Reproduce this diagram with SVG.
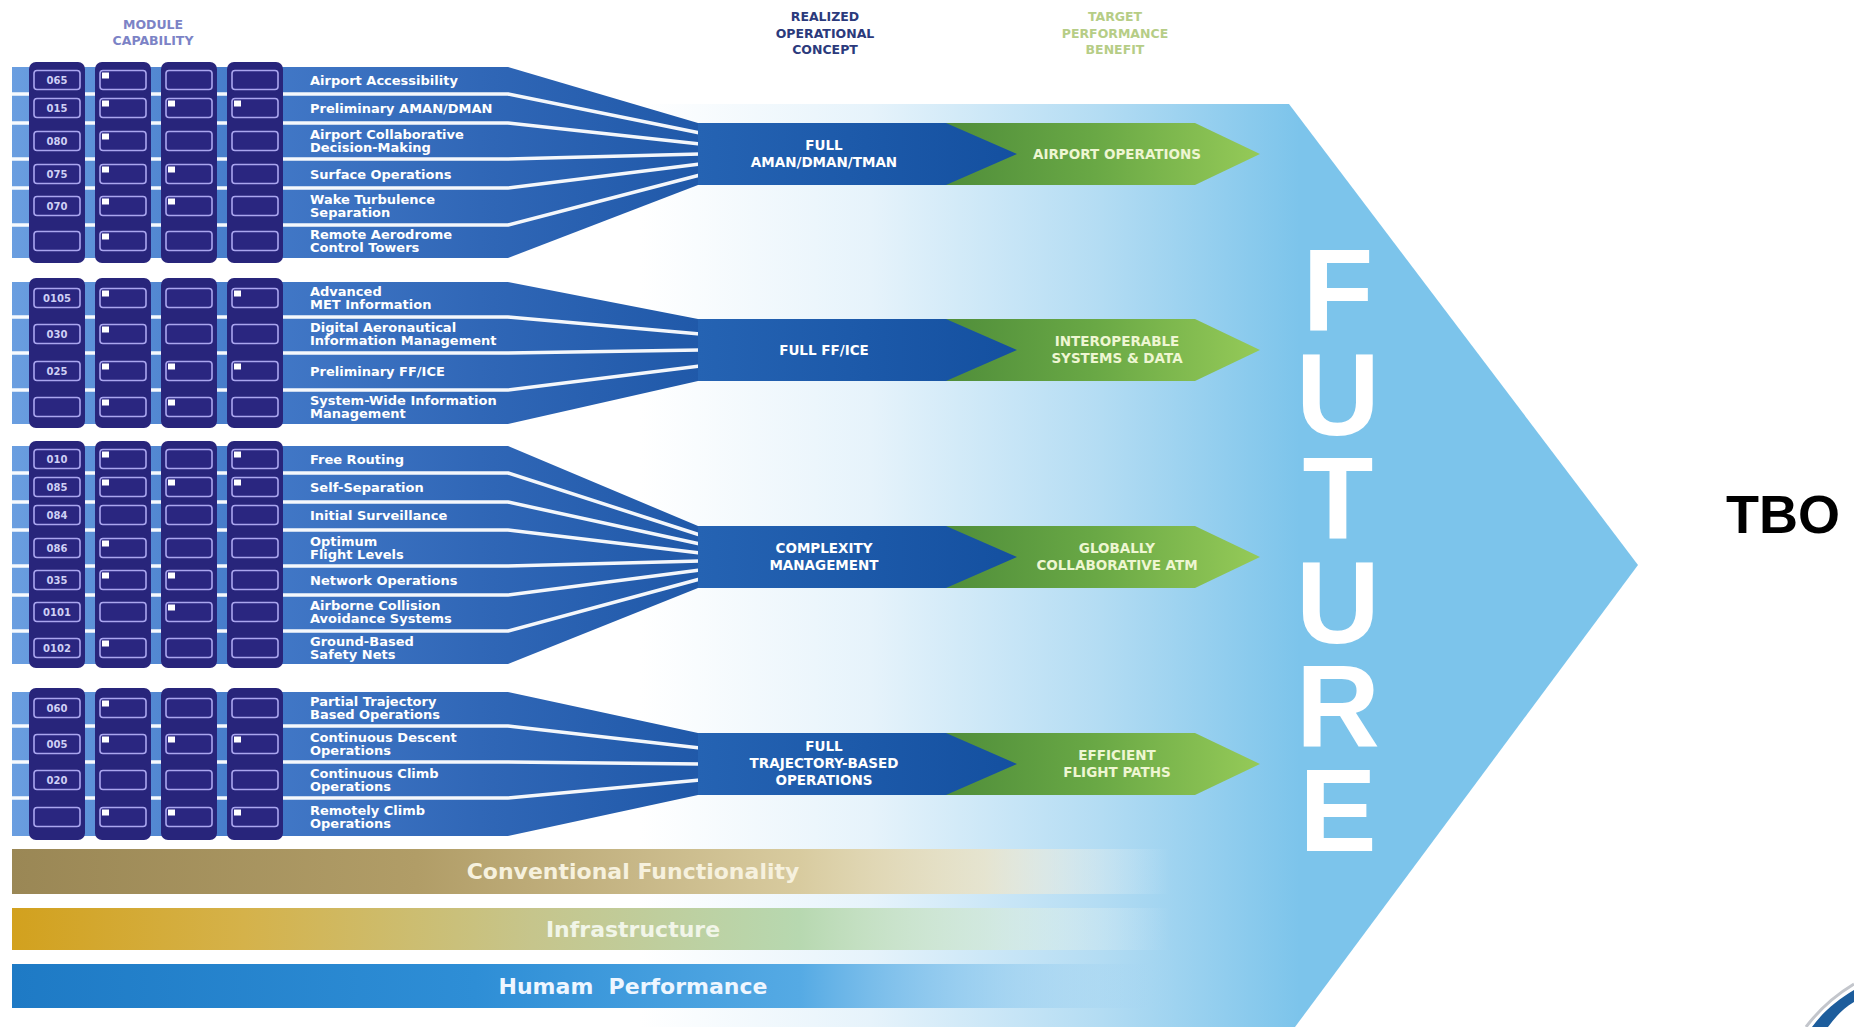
<svg xmlns="http://www.w3.org/2000/svg" xmlns:xlink="http://www.w3.org/1999/xlink" width="1854" height="1027" viewBox="0 0 1854 1027">
<defs>
<linearGradient id="gArrow" gradientUnits="userSpaceOnUse" x1="640" y1="0" x2="1300" y2="0">
<stop offset="0" stop-color="#ffffff"/><stop offset="0.35" stop-color="#e6f3fb"/><stop offset="0.7" stop-color="#b3dcf3"/><stop offset="1" stop-color="#7cc4eb"/>
</linearGradient>
<linearGradient id="gBand" gradientUnits="userSpaceOnUse" x1="12" y1="0" x2="700" y2="0">
<stop offset="0" stop-color="#6a9ee0"/><stop offset="0.35" stop-color="#4379c8"/><stop offset="0.7" stop-color="#2f66b6"/><stop offset="1" stop-color="#2059a9"/>
</linearGradient>
<linearGradient id="gBlue" gradientUnits="userSpaceOnUse" x1="698" y1="0" x2="1017" y2="0">
<stop offset="0" stop-color="#2563b3"/><stop offset="1" stop-color="#1450a0"/>
</linearGradient>
<linearGradient id="gGreen" gradientUnits="userSpaceOnUse" x1="930" y1="0" x2="1260" y2="0">
<stop offset="0" stop-color="#4d8b39"/><stop offset="0.5" stop-color="#69a845"/><stop offset="1" stop-color="#95ca58"/>
</linearGradient>
<linearGradient id="gConv" gradientUnits="userSpaceOnUse" x1="12" y1="0" x2="1170" y2="0">
<stop offset="0" stop-color="#9a8755"/><stop offset="0.35" stop-color="#b19d67"/><stop offset="0.68" stop-color="#d8cb9f"/><stop offset="0.84" stop-color="#ebe3c6" stop-opacity="0.8"/><stop offset="1" stop-color="#ffffff" stop-opacity="0"/>
</linearGradient>
<linearGradient id="gInfra" gradientUnits="userSpaceOnUse" x1="12" y1="0" x2="1170" y2="0">
<stop offset="0" stop-color="#d2a11e"/><stop offset="0.2" stop-color="#d5b24a"/><stop offset="0.45" stop-color="#c6c58c"/><stop offset="0.68" stop-color="#b7d8b0"/><stop offset="0.84" stop-color="#d2e8d4" stop-opacity="0.7"/><stop offset="1" stop-color="#ffffff" stop-opacity="0"/>
</linearGradient>
<linearGradient id="gHum" gradientUnits="userSpaceOnUse" x1="12" y1="0" x2="1170" y2="0">
<stop offset="0" stop-color="#1e7ac5"/><stop offset="0.4" stop-color="#2e8ed6"/><stop offset="0.68" stop-color="#55aae4"/><stop offset="0.84" stop-color="#8cc8ee" stop-opacity="0.7"/><stop offset="1" stop-color="#a8d6f2" stop-opacity="0"/>
</linearGradient>
<g id="bx">
<rect class="ib" x="34" y="-9.5" width="46" height="19" rx="3"/>
<rect class="ib" x="100" y="-9.5" width="46" height="19" rx="3"/>
<rect class="ib" x="166" y="-9.5" width="46" height="19" rx="3"/>
<rect class="ib" x="232" y="-9.5" width="46" height="19" rx="3"/>
</g>
<rect id="fl" x="0" y="-7.5" width="7" height="6" fill="#ffffff"/>
</defs>
<style>
.ib{fill:#2a2680;stroke:#aaa6ef;stroke-width:1.6}
.col{fill:#28257b}
.band{fill:url(#gBand)}
.sep{fill:none;stroke:#ffffff;stroke-width:3.5;stroke-linejoin:round;opacity:0.95}
.code{font-family:"DejaVu Sans",sans-serif;font-weight:bold;font-size:10px;fill:#cfd0f5;text-anchor:middle}
.lbl{font-family:"DejaVu Sans",sans-serif;font-weight:bold;font-size:13px;fill:#ffffff}
.blue{fill:url(#gBlue)}
.green{fill:url(#gGreen)}
.ct{font-family:"DejaVu Sans",sans-serif;font-weight:bold;font-size:13.5px;fill:#ffffff;text-anchor:middle}
.bt{font-family:"DejaVu Sans",sans-serif;font-weight:bold;font-size:13.5px;fill:#eef6d2;text-anchor:middle}
.hd{font-family:"DejaVu Sans",sans-serif;font-weight:bold;font-size:12.5px;text-anchor:middle}
.bar{font-family:"DejaVu Sans",sans-serif;font-weight:bold;font-size:22px;text-anchor:middle}
.fut{font-family:"Liberation Sans",Arial,sans-serif;font-weight:bold;font-size:116px;fill:#ffffff;writing-mode:vertical-rl;text-orientation:upright;letter-spacing:-26px}
</style>
<rect x="0" y="0" width="1854" height="1027" fill="#ffffff"/>

<g id="future-arrow">
<polygon points="600,104 1289,104 1638,565 1295,1027 600,1027" fill="url(#gArrow)"/>
</g>

<g id="bar-conventional">
<rect x="12" y="849" width="1160" height="45" fill="url(#gConv)"/>
<text class="bar" x="633" y="879" fill="#f6f1de">Conventional Functionality</text>
</g>
<g id="bar-infrastructure">
<rect x="12" y="908" width="1160" height="42" fill="url(#gInfra)"/>
<text class="bar" x="633" y="937" fill="#f1f5e8">Infrastructure</text>
</g>
<g id="bar-human">
<rect x="12" y="964" width="1160" height="44" fill="url(#gHum)"/>
<text class="bar" x="633" y="994" fill="#eef6ff" xml:space="preserve">Humam  Performance</text>
</g>

<g id="benefits">
<g id="benefit-airport"><polygon class="green" points="930,123 1195,123 1260,154 1195,185 930,185"/><text class="bt" x="1117" y="159">AIRPORT OPERATIONS</text></g>
<g id="benefit-interop"><polygon class="green" points="930,319 1195,319 1260,350 1195,381 930,381"/><text class="bt" x="1117" y="346">INTEROPERABLE</text><text class="bt" x="1117" y="363">SYSTEMS &amp; DATA</text></g>
<g id="benefit-global"><polygon class="green" points="930,526 1195,526 1260,557 1195,588 930,588"/><text class="bt" x="1117" y="553">GLOBALLY</text><text class="bt" x="1117" y="570">COLLABORATIVE ATM</text></g>
<g id="benefit-efficient"><polygon class="green" points="930,733 1195,733 1260,764 1195,795 930,795"/><text class="bt" x="1117" y="760">EFFICIENT</text><text class="bt" x="1117" y="777">FLIGHT PATHS</text></g>
</g>

<g id="bands">
<path class="band" d="M12,67 H508 L698,123 V185 L508,258 H12 Z"/>
<path class="band" d="M12,282 H508 L698,319 V381 L508,424 H12 Z"/>
<path class="band" d="M12,446 H508 L698,526 V588 L508,664 H12 Z"/>
<path class="band" d="M12,692 H508 L698,733 V795 L508,836 H12 Z"/>
</g>

<g id="connectors">
<path class="sep" d="M12,94 H508 L700,133"/>
<path class="sep" d="M12,123 H508 L700,144"/>
<path class="sep" d="M12,159 H508 L700,154"/>
<path class="sep" d="M12,188 H508 L700,164"/>
<path class="sep" d="M12,225 H508 L700,175"/>
<path class="sep" d="M12,317 H508 L700,334"/>
<path class="sep" d="M12,353 H508 L700,350"/>
<path class="sep" d="M12,390 H508 L700,366"/>
<path class="sep" d="M12,473 H508 L700,535"/>
<path class="sep" d="M12,502 H508 L700,544"/>
<path class="sep" d="M12,530 H508 L700,553"/>
<path class="sep" d="M12,566 H508 L700,561"/>
<path class="sep" d="M12,595 H508 L700,570"/>
<path class="sep" d="M12,631 H508 L700,579"/>
<path class="sep" d="M12,726 H508 L700,748"/>
<path class="sep" d="M12,762 H508 L700,764"/>
<path class="sep" d="M12,798 H508 L700,780"/>
</g>

<g id="concepts">
<g id="concept-aman"><polygon class="blue" points="698,123 946,123 1017,154 946,185 698,185"/><text class="ct" x="824" y="150">FULL</text><text class="ct" x="824" y="167">AMAN/DMAN/TMAN</text></g>
<g id="concept-ffice"><polygon class="blue" points="698,319 946,319 1017,350 946,381 698,381"/><text class="ct" x="824" y="355">FULL FF/ICE</text></g>
<g id="concept-complexity"><polygon class="blue" points="698,526 946,526 1017,557 946,588 698,588"/><text class="ct" x="824" y="553">COMPLEXITY</text><text class="ct" x="824" y="570">MANAGEMENT</text></g>
<g id="concept-tbo"><polygon class="blue" points="698,733 946,733 1017,764 946,795 698,795"/><text class="ct" x="824" y="751">FULL</text><text class="ct" x="824" y="768">TRAJECTORY-BASED</text><text class="ct" x="824" y="785">OPERATIONS</text></g>
</g>

<g id="columns">
<rect class="col" x="29" y="62" width="56" height="201" rx="7"/><rect class="col" x="95" y="62" width="56" height="201" rx="7"/><rect class="col" x="161" y="62" width="56" height="201" rx="7"/><rect class="col" x="227" y="62" width="56" height="201" rx="7"/>
<rect class="col" x="29" y="278" width="56" height="150" rx="7"/><rect class="col" x="95" y="278" width="56" height="150" rx="7"/><rect class="col" x="161" y="278" width="56" height="150" rx="7"/><rect class="col" x="227" y="278" width="56" height="150" rx="7"/>
<rect class="col" x="29" y="441" width="56" height="227" rx="7"/><rect class="col" x="95" y="441" width="56" height="227" rx="7"/><rect class="col" x="161" y="441" width="56" height="227" rx="7"/><rect class="col" x="227" y="441" width="56" height="227" rx="7"/>
<rect class="col" x="29" y="688" width="56" height="152" rx="7"/><rect class="col" x="95" y="688" width="56" height="152" rx="7"/><rect class="col" x="161" y="688" width="56" height="152" rx="7"/><rect class="col" x="227" y="688" width="56" height="152" rx="7"/>
</g>

<g id="modules">
<g id="m065" transform="translate(0,80)"><use xlink:href="#bx"/><use xlink:href="#fl" x="102"/><text class="code" x="57" y="3.5">065</text><text class="lbl" x="310" y="4.5">Airport Accessibility</text></g>
<g id="m015" transform="translate(0,108)"><use xlink:href="#bx"/><use xlink:href="#fl" x="102"/><use xlink:href="#fl" x="168"/><use xlink:href="#fl" x="234"/><text class="code" x="57" y="3.5">015</text><text class="lbl" x="310" y="4.5">Preliminary AMAN/DMAN</text></g>
<g id="m080" transform="translate(0,141)"><use xlink:href="#bx"/><use xlink:href="#fl" x="102"/><text class="code" x="57" y="3.5">080</text><text class="lbl" x="310" y="-2">Airport Collaborative</text><text class="lbl" x="310" y="10.5">Decision-Making</text></g>
<g id="m075" transform="translate(0,174)"><use xlink:href="#bx"/><use xlink:href="#fl" x="102"/><use xlink:href="#fl" x="168"/><text class="code" x="57" y="3.5">075</text><text class="lbl" x="310" y="4.5">Surface Operations</text></g>
<g id="m070" transform="translate(0,206)"><use xlink:href="#bx"/><use xlink:href="#fl" x="102"/><use xlink:href="#fl" x="168"/><text class="code" x="57" y="3.5">070</text><text class="lbl" x="310" y="-2">Wake Turbulence</text><text class="lbl" x="310" y="10.5">Separation</text></g>
<g id="mRemoteTower" transform="translate(0,241)"><use xlink:href="#bx"/><use xlink:href="#fl" x="102"/><text class="lbl" x="310" y="-2">Remote Aerodrome</text><text class="lbl" x="310" y="10.5">Control Towers</text></g>

<g id="m0105" transform="translate(0,298)"><use xlink:href="#bx"/><use xlink:href="#fl" x="102"/><use xlink:href="#fl" x="234"/><text class="code" x="57" y="3.5">0105</text><text class="lbl" x="310" y="-2">Advanced</text><text class="lbl" x="310" y="10.5">MET Information</text></g>
<g id="m030" transform="translate(0,334)"><use xlink:href="#bx"/><use xlink:href="#fl" x="102"/><text class="code" x="57" y="3.5">030</text><text class="lbl" x="310" y="-2">Digital Aeronautical</text><text class="lbl" x="310" y="10.5">Information Management</text></g>
<g id="m025" transform="translate(0,371)"><use xlink:href="#bx"/><use xlink:href="#fl" x="102"/><use xlink:href="#fl" x="168"/><use xlink:href="#fl" x="234"/><text class="code" x="57" y="3.5">025</text><text class="lbl" x="310" y="4.5">Preliminary FF/ICE</text></g>
<g id="mSWIM" transform="translate(0,407)"><use xlink:href="#bx"/><use xlink:href="#fl" x="102"/><use xlink:href="#fl" x="168"/><text class="lbl" x="310" y="-2">System-Wide Information</text><text class="lbl" x="310" y="10.5">Management</text></g>

<g id="m010" transform="translate(0,459)"><use xlink:href="#bx"/><use xlink:href="#fl" x="102"/><use xlink:href="#fl" x="234"/><text class="code" x="57" y="3.5">010</text><text class="lbl" x="310" y="4.5">Free Routing</text></g>
<g id="m085" transform="translate(0,487)"><use xlink:href="#bx"/><use xlink:href="#fl" x="102"/><use xlink:href="#fl" x="168"/><use xlink:href="#fl" x="234"/><text class="code" x="57" y="3.5">085</text><text class="lbl" x="310" y="4.5">Self-Separation</text></g>
<g id="m084" transform="translate(0,515)"><use xlink:href="#bx"/><text class="code" x="57" y="3.5">084</text><text class="lbl" x="310" y="4.5">Initial Surveillance</text></g>
<g id="m086" transform="translate(0,548)"><use xlink:href="#bx"/><use xlink:href="#fl" x="102"/><text class="code" x="57" y="3.5">086</text><text class="lbl" x="310" y="-2">Optimum</text><text class="lbl" x="310" y="10.5">Flight Levels</text></g>
<g id="m035" transform="translate(0,580)"><use xlink:href="#bx"/><use xlink:href="#fl" x="102"/><use xlink:href="#fl" x="168"/><text class="code" x="57" y="3.5">035</text><text class="lbl" x="310" y="4.5">Network Operations</text></g>
<g id="m0101" transform="translate(0,612)"><use xlink:href="#bx"/><use xlink:href="#fl" x="168"/><text class="code" x="57" y="3.5">0101</text><text class="lbl" x="310" y="-2">Airborne Collision</text><text class="lbl" x="310" y="10.5">Avoidance Systems</text></g>
<g id="m0102" transform="translate(0,648)"><use xlink:href="#bx"/><use xlink:href="#fl" x="102"/><text class="code" x="57" y="3.5">0102</text><text class="lbl" x="310" y="-2">Ground-Based</text><text class="lbl" x="310" y="10.5">Safety Nets</text></g>

<g id="m060" transform="translate(0,708)"><use xlink:href="#bx"/><use xlink:href="#fl" x="102"/><text class="code" x="57" y="3.5">060</text><text class="lbl" x="310" y="-2">Partial Trajectory</text><text class="lbl" x="310" y="10.5">Based Operations</text></g>
<g id="m005" transform="translate(0,744)"><use xlink:href="#bx"/><use xlink:href="#fl" x="102"/><use xlink:href="#fl" x="168"/><use xlink:href="#fl" x="234"/><text class="code" x="57" y="3.5">005</text><text class="lbl" x="310" y="-2">Continuous Descent</text><text class="lbl" x="310" y="10.5">Operations</text></g>
<g id="m020" transform="translate(0,780)"><use xlink:href="#bx"/><text class="code" x="57" y="3.5">020</text><text class="lbl" x="310" y="-2">Continuous Climb</text><text class="lbl" x="310" y="10.5">Operations</text></g>
<g id="mRemoteClimb" transform="translate(0,817)"><use xlink:href="#bx"/><use xlink:href="#fl" x="102"/><use xlink:href="#fl" x="168"/><use xlink:href="#fl" x="234"/><text class="lbl" x="310" y="-2">Remotely Climb</text><text class="lbl" x="310" y="10.5">Operations</text></g>
</g>

<g id="headers">
<text class="hd" x="153" y="29" fill="#7c83c6">MODULE</text>
<text class="hd" x="153" y="45" fill="#7c83c6">CAPABILITY</text>
<text class="hd" x="825" y="21" fill="#2b3a7c">REALIZED</text>
<text class="hd" x="825" y="38" fill="#2b3a7c">OPERATIONAL</text>
<text class="hd" x="825" y="54" fill="#2b3a7c">CONCEPT</text>
<text class="hd" x="1115" y="21" fill="#b6cd86">TARGET</text>
<text class="hd" x="1115" y="38" fill="#b6cd86">PERFORMANCE</text>
<text class="hd" x="1115" y="54" fill="#b6cd86">BENEFIT</text>
</g>

<g id="future-text">
<text class="fut" x="1338" y="226">FUTURE</text>
</g>

<g id="tbo">
<text x="1726" y="533" font-family="Liberation Sans, Arial, sans-serif" font-weight="bold" font-size="54" fill="#000000">TBO</text>
</g>

<g id="corner-swoosh">
<path d="M1854,984 C1834,996 1818,1011 1806,1027" fill="none" stroke="#c3c6cc" stroke-width="3"/>
<path d="M1854,990 C1837,1000 1822,1013 1812,1027 L1828,1027 C1836,1016 1844,1008 1854,1002 Z" fill="#1d5d9c"/>
</g>
</svg>
